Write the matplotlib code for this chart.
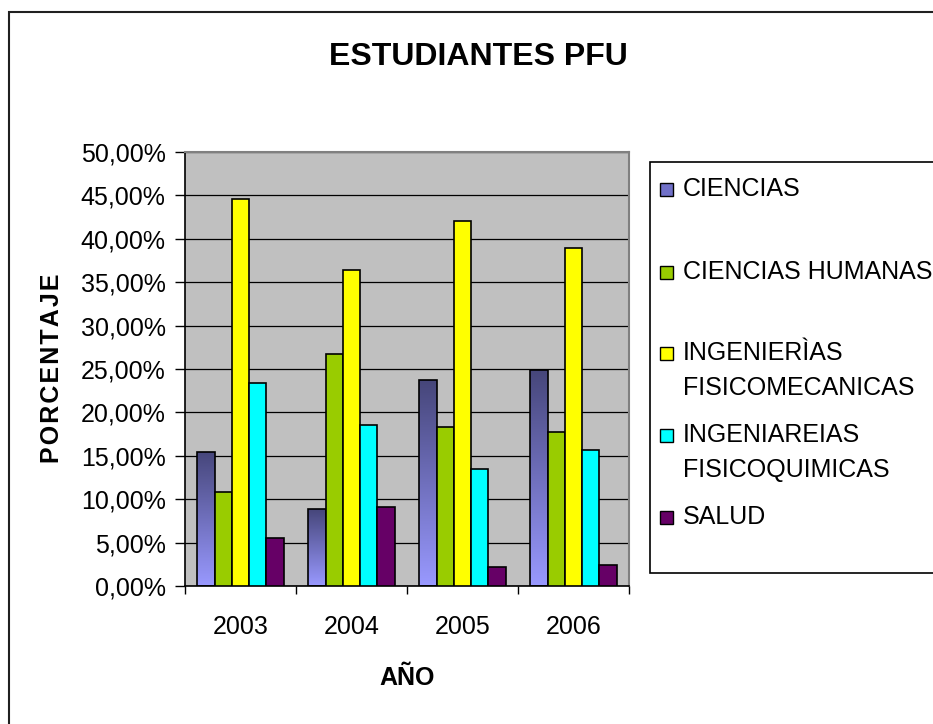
import matplotlib
matplotlib.use("Agg")
import matplotlib.pyplot as plt
import numpy as np
from matplotlib.patches import Rectangle
from matplotlib.colors import LinearSegmentedColormap

plt.rcParams['font.family'] = ['Liberation Sans', 'DejaVu Sans']

years = ["2003", "2004", "2005", "2006"]
series_names = ["CIENCIAS", "CIENCIAS HUMANAS", "INGENIERÌAS\nFISICOMECANICAS",
                "INGENIAREIAS\nFISICOQUIMICAS", "SALUD"]
ciencias = [15.44, 8.83, 23.69, 24.92]
ciencias_humanas = [10.83, 26.73, 18.28, 17.74]
ing_fisicomecanicas = [44.55, 36.44, 42.09, 38.98]
ing_fisicoquimicas = [23.39, 18.51, 13.44, 15.71]
salud = [5.53, 9.10, 2.23, 2.46]
yticks = [0, 5, 10, 15, 20, 25, 30, 35, 40, 45, 50]

series = [ciencias, ciencias_humanas, ing_fisicomecanicas, ing_fisicoquimicas, salud]
colors = [None, "#99CC00", "#FFFF00", "#00FFFF", "#660066"]
swatch_colors = ["#7070C8", "#99CC00", "#FFFF00", "#00FFFF", "#660066"]

FS = 18
TFS = 23

W, H = 933, 724
fig = plt.figure(figsize=(W / 100, H / 100), dpi=100)
fig.patch.set_facecolor("white")

ax = fig.add_axes([185 / W, 1 - 586 / H, 444 / W, 434 / H])
ax.set_facecolor("#C0C0C0")

x = np.arange(len(years))
bw = 0.156
n = len(series)
grad_cmap = LinearSegmentedColormap.from_list("g", ["#9999FF", "#46467A"])

for i, vals in enumerate(series):
    pos = x + (i - (n - 1) / 2) * bw
    if colors[i] is None:
        bars = ax.bar(pos, vals, width=bw, facecolor="none", edgecolor="black",
                      linewidth=1.2, zorder=3)
        for b in bars:
            x0 = b.get_x()
            w, h = b.get_width(), b.get_height()
            grad = np.linspace(0, 1, 256).reshape(-1, 1)
            im = ax.imshow(grad, extent=(x0, x0 + w, 0, h), origin="lower",
                           cmap=grad_cmap, aspect="auto", zorder=2,
                           interpolation="bilinear")
            im.set_clip_path(b)
    else:
        ax.bar(pos, vals, width=bw, color=colors[i], edgecolor="black",
               linewidth=1.2, zorder=3)

ax.set_xlim(-0.5, len(years) - 0.5)
ax.set_ylim(0, 50)
ax.set_yticks(yticks)
ax.set_yticklabels([f"{v:.2f}".replace(".", ",") + "%" for v in yticks], fontsize=FS)
ax.yaxis.grid(True, color="black", linewidth=0.9, zorder=1)
ax.set_axisbelow(True)

ax.set_xticks(x)
ax.set_xticklabels(years, fontsize=FS)
ax.set_xticks(np.arange(len(years) + 1) - 0.5, minor=True)
ax.tick_params(axis="x", which="major", length=0, pad=21)
ax.tick_params(axis="x", which="minor", length=6, width=1, color="black", direction="out")
ax.tick_params(axis="y", length=7, width=1, color="black", direction="out", pad=7)

for s in ["left", "bottom"]:
    ax.spines[s].set_color("black")
    ax.spines[s].set_linewidth(1.2)
for s in ["top", "right"]:
    ax.spines[s].set_color("#808080")
    ax.spines[s].set_linewidth(1.5)

# title and axis labels
fig.text(478 / W, 1 - 57 / H, "ESTUDIANTES PFU", fontsize=TFS, fontweight="bold",
         ha="center", va="center")
fig.text(407 / W, 1 - 678 / H, "AÑO", fontsize=FS, fontweight="bold",
         ha="center", va="center")
fig.text(52 / W, 1 - 368 / H, "\u200a".join("PORCENTAJE"),
         fontsize=FS, fontweight="bold",
         rotation=90, ha="center", va="center")

# outer border
fig.patches.append(Rectangle((9 / W, -0.05), 1.1, 1 - 12 / H + 0.05,
                             transform=fig.transFigure, fill=False,
                             edgecolor="#202020", linewidth=1.5, clip_on=False))

# legend box
fig.patches.append(Rectangle((650 / W, 1 - 573 / H), 1.0, (573 - 162) / H,
                             transform=fig.transFigure, facecolor="white",
                             edgecolor="black", linewidth=1.2, clip_on=False))
label_y = [187, 270, 351, 433, 515]
line_gap = 35
for i, name in enumerate(series_names):
    yc = label_y[i]
    fig.patches.append(Rectangle((660 / W, 1 - (yc + 9) / H), 13 / W, 13 / H,
                                 transform=fig.transFigure, facecolor=swatch_colors[i],
                                 edgecolor="black", linewidth=1.0))
    for j, line in enumerate(name.split("\n")):
        fig.text(683 / W, 1 - (yc + 9 + j * line_gap) / H, line, fontsize=FS,
                 ha="left", va="baseline")

fig.savefig("out.png", dpi=100)
